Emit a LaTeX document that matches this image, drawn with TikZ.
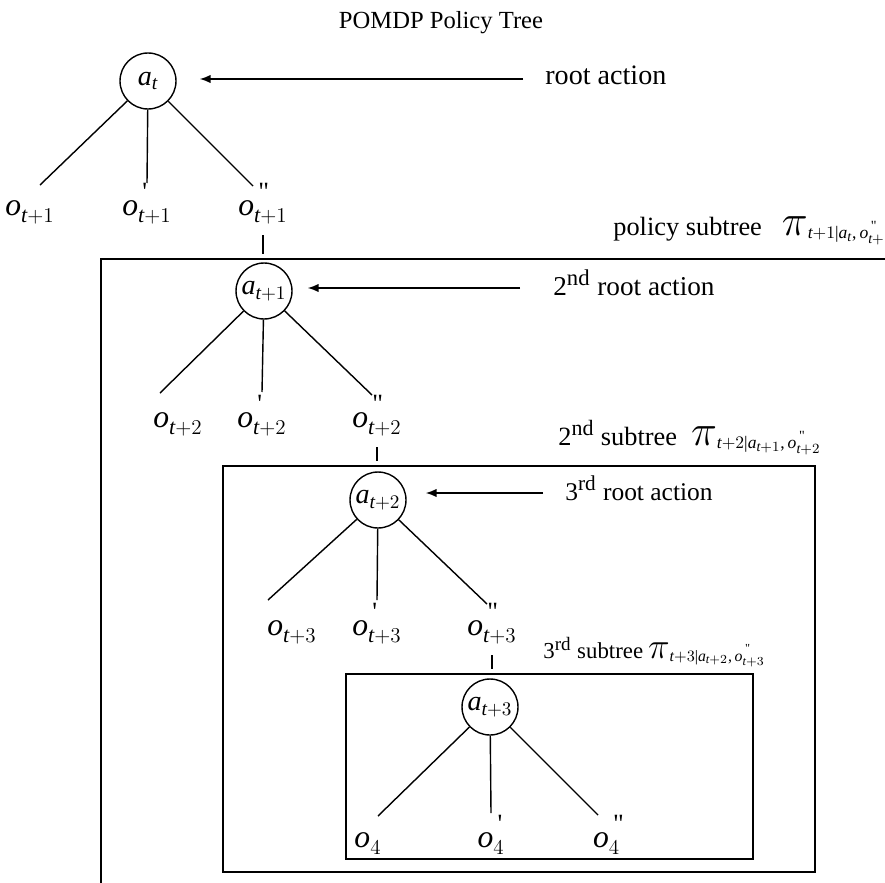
\documentclass[tikz,border=0pt]{standalone}
\usepackage{amsmath}
\usepackage{fontspec}
\setmainfont{Liberation Serif}
\usepackage[italic]{mathastext}
\usetikzlibrary{arrows.meta}

\newcommand{\oneprime}{\mkern3mu\text{\raisebox{0.15em}{\textquotesingle}}}
\newcommand{\twoprime}{\mkern3mu\text{\raisebox{0.15em}{\textquotedbl}}}
\newcommand{\ob}[2]{$o^{#1}_{\scriptscriptstyle #2}$}
\newcommand{\pisub}[3]{{\fontsize{#1}{#1}\selectfont$\pi$}\raisebox{-0.07cm}{\fontsize{#2}{#2}\selectfont$#3$}}

\tikzset{
    act/.style={circle, draw, line width=0.8pt, minimum size=1.12cm, inner sep=0pt, font=\fontsize{16}{16}\selectfont},
    obs/.style={anchor=base, inner sep=0pt, text depth=0.4cm, font=\fontsize{18}{18}\selectfont},
    lbl/.style={anchor=base west, inner sep=0pt},
    edge/.style={line width=0.8pt},
    box/.style={line width=0.9pt},
    pointer/.style={-{Latex[length=0.22cm,width=0.17cm]}, line width=0.9pt},
}

\begin{document}
\begin{tikzpicture}[x=0.02cm, y=-0.02cm]
    \useasboundingbox (0,0) rectangle (885,882);
    \clip (0,0) rectangle (885,882);
    
    %title:
    \node[lbl, anchor=base, font=\fontsize{14}{14}\selectfont] (title) at (441,29) {POMDP Policy Tree};
    
    %action nodes:
    \node[act] (a1) at (148,81) {$a_{\scriptscriptstyle t}$};
    \node[act] (a2) at (264,291) {$a_{\scriptscriptstyle t{+}1}$};
    \node[act] (a3) at (378,500) {$a_{\scriptscriptstyle t{+}2}$};
    \node[act] (a4) at (490,707) {$a_{\scriptscriptstyle t{+}3}$};
    
    %observations:
    \node[obs] (o11) at (30,215) {\ob{}{t{+}1}};
    \node[obs] (o12) at (147,215) {\ob{\oneprime}{t{+}1}};
    \node[obs] (o13) at (263,215) {\ob{\twoprime}{t{+}1}};
    \node[obs] (o21) at (178,427) {\ob{}{t{+}2}};
    \node[obs] (o22) at (262,427) {\ob{\oneprime}{t{+}2}};
    \node[obs] (o23) at (377,427) {\ob{\twoprime}{t{+}2}};
    \node[obs] (o31) at (292,635) {\ob{}{t{+}3}};
    \node[obs] (o32) at (377,635) {\ob{\oneprime}{t{+}3}};
    \node[obs] (o33) at (492,635) {\ob{\twoprime}{t{+}3}};
    \node[obs] (o41) at (368,847) {\ob{}{4}};
    \node[obs] (o42) at (491,847) {\ob{\oneprime}{4}};
    \node[obs] (o43) at (609,847) {\ob{\twoprime}{4}};
    
    %branch ends:
    \coordinate (e11) at (40,185);
    \coordinate (e12) at (147,183);
    \coordinate (e13) at (253,186);
    \coordinate (e21) at (160,393);
    \coordinate (e22) at (262,392);
    \coordinate (e23) at (372,395);
    \coordinate (e31) at (268,600);
    \coordinate (e32) at (377,600);
    \coordinate (e33) at (487,604);
    \coordinate (e41) at (378,816);
    \coordinate (e42) at (491,813);
    \coordinate (e43) at (598,815);
    
    %draw branches:
    \foreach \l in {1,2,3,4}
        \foreach \i in {1,2,3}
            \draw[edge] (a\l) -- (e\l\i);
    
    %subtree boxes:
    \coordinate (b1) at (101,259);
    \coordinate (b2) at (223,466);
    \coordinate (b3) at (346,674);
    \draw[box] (b1) rectangle (950,950);
    \draw[box] (b2) rectangle (815,872);
    \draw[box] (b3) rectangle (753,859);
    
    \draw[edge, shorten >=0.1cm] (o13.south) -- (o13.south |- b1);
    \draw[edge, shorten >=0.1cm] (o23.south) -- (o23.south |- b2);
    \draw[edge, shorten >=0.1cm] (o33.south) -- (o33.south |- b3);
    
    %root actions:
    \node[lbl, font=\fontsize{16}{16}\selectfont] (r1) at (545,85) {root action};
    \node[lbl, font=\fontsize{15.5}{15.5}\selectfont] (r2) at (553,295) {2\textsuperscript{nd} root action};
    \node[lbl, font=\fontsize{14.5}{14.5}\selectfont] (r3) at (565,500) {3\textsuperscript{rd} root action};
    
    \coordinate (p1) at (523,79);
    \coordinate (p2) at (520,288);
    \coordinate (p3) at (543,493);
    \draw[pointer, shorten >=0.46cm] (p1) -- (p1 -| a1.east);
    \draw[pointer, shorten >=0.3cm] (p2) -- (p2 -| a2.east);
    \draw[pointer, shorten >=0.38cm] (p3) -- (p3 -| a3.east);
    
    %subtree labels:
    \node[lbl, font=\fontsize{15}{15}\selectfont] (s1) at (613,235)
        {policy subtree\hspace{0.4cm}\pisub{24}{10}{t{+}1|a_{t},o^{\twoprime}_{t+1}}};
    \node[lbl, font=\fontsize{15}{15}\selectfont] (s2) at (558,445)
        {2\textsuperscript{nd} subtree\hspace{0.28cm}\pisub{24}{10}{t{+}2|a_{t+1},o^{\twoprime}_{t+2}}};
    \node[lbl, font=\fontsize{13}{13}\selectfont] (s3) at (543,658)
        {3\textsuperscript{rd} subtree\hspace{0.1cm}\pisub{20}{9}{t{+}3|a_{t+2},o^{\twoprime}_{t+3}}};
    
\end{tikzpicture}
\end{document}
